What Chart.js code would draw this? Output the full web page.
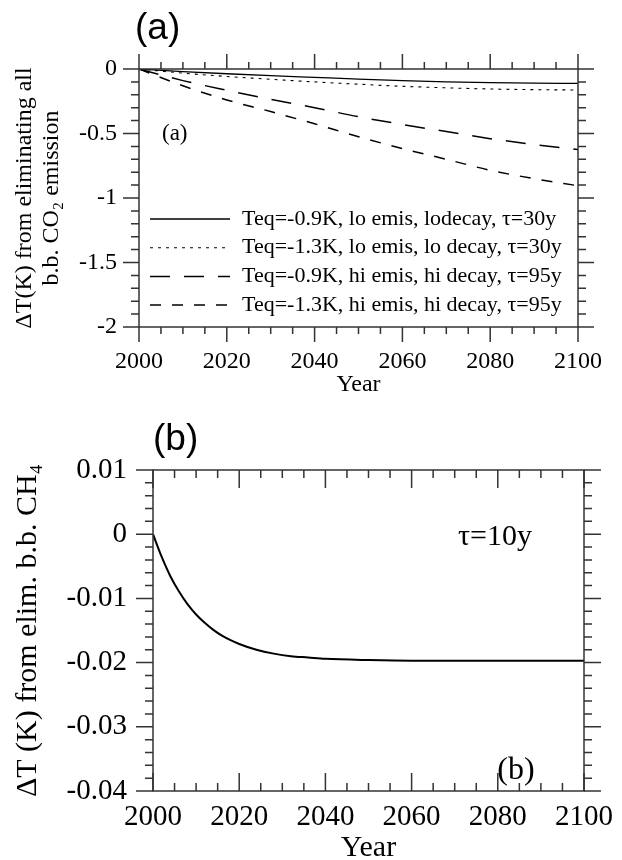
<!DOCTYPE html>
<html>
<head>
<meta charset="utf-8">
<script src="https://cdn.jsdelivr.net/npm/chart.js@4.4.1/dist/chart.umd.min.js"></script>
<style>
  body { margin: 0; background: #fff; width: 622px; height: 860px; overflow: hidden; position: relative; }
  canvas { position: absolute; left: 0; }
  #chartA { top: 0; }
  #chartB { top: 400px; }
</style>
</head>
<body>
<canvas id="chartA" width="622" height="400"></canvas>
<canvas id="chartB" width="622" height="460"></canvas>
<script>
// panel (a): warming change from eliminating biomass-burning CO2
const yearsA = [2000, 2010, 2020, 2030, 2040, 2050, 2060, 2070, 2080, 2090, 2100];
const loTeq09 = [0, -0.02, -0.037, -0.052, -0.065, -0.078, -0.09, -0.1, -0.106, -0.11, -0.111];
const loTeq13 = [0, -0.032, -0.058, -0.08, -0.1, -0.118, -0.134, -0.146, -0.155, -0.16, -0.163];
const hiTeq09 = [0, -0.09, -0.165, -0.235, -0.3, -0.37, -0.43, -0.485, -0.54, -0.585, -0.625];
const hiTeq13 = [0, -0.13, -0.24, -0.33, -0.425, -0.525, -0.617, -0.7, -0.785, -0.85, -0.905];
const labelsA = [
  'Teq=-0.9K, lo emis, lodecay, τ=30y',
  'Teq=-1.3K, lo emis, lo decay, τ=30y',
  'Teq=-0.9K, hi emis, hi decay, τ=95y',
  'Teq=-1.3K, hi emis, hi decay, τ=95y'
];

// panel (b): CH4
const yearsB = [2000, 2002, 2004, 2006, 2008, 2010, 2012, 2014, 2016, 2018, 2020, 2024, 2028, 2032, 2036, 2040, 2050, 2060, 2070, 2080, 2090, 2100];
const dTch4 = [0, -0.0035, -0.0065, -0.0089, -0.0109, -0.0125, -0.0138, -0.0149, -0.0158, -0.0165, -0.0171, -0.018, -0.0186, -0.019, -0.0192, -0.0194, -0.0196, -0.0197, -0.0197, -0.0197, -0.0197, -0.0197];

const serif = "'Liberation Serif', 'Times New Roman', serif";
const sans = "'Liberation Sans', Arial, sans-serif";
Chart.defaults.font.family = serif;
Chart.defaults.color = '#000';

const fmt = v => String(Math.round(v * 1000) / 1000);
const pts = (xs, ys) => xs.map((x, i) => ({x: x, y: ys[i]}));

// box frame plus major/minor ticks on all four sides
const frameTicks = {
  id: 'frameTicks',
  afterDatasetsDraw(chart, args, o) {
    const {ctx, chartArea: a, scales: {x, y}} = chart;
    ctx.save();
    ctx.strokeStyle = '#333';
    ctx.lineWidth = 1.5;
    ctx.setLineDash([]);
    ctx.strokeRect(a.left, a.top, a.right - a.left, a.bottom - a.top);
    const walk = (min, max, minor, major, fn) => {
      const n = Math.round((max - min) / minor);
      for (let i = 0; i <= n; i++) {
        const v = min + i * minor;
        const q = v / major;
        fn(v, Math.abs(q - Math.round(q)) < 1e-6);
      }
    };
    ctx.beginPath();
    const sx = o.xInward ? -1 : 1;
    walk(x.min, x.max, o.xMinor, o.xMajor, (v, big) => {
      const px = x.getPixelForValue(v);
      const len = big ? o.xMajorLen : o.xMinorLen;
      ctx.moveTo(px, a.top); ctx.lineTo(px, a.top - sx * len);
      ctx.moveTo(px, a.bottom); ctx.lineTo(px, a.bottom + sx * len);
    });
    walk(y.min, y.max, o.yMinor, o.yMajor, (v, big) => {
      const py = y.getPixelForValue(v);
      const len = big ? o.yMajorLen : o.yMinorLen;
      ctx.moveTo(a.left, py); ctx.lineTo(a.left - len, py);
      ctx.moveTo(a.right, py); ctx.lineTo(a.right + len, py);
    });
    ctx.stroke();
    ctx.restore();
  }
};

// legend drawn inside the plot box
const lineLegend = {
  id: 'lineLegend',
  afterDatasetsDraw(chart, args, o) {
    const ctx = chart.ctx;
    ctx.save();
    ctx.font = o.font;
    ctx.fillStyle = '#000';
    ctx.strokeStyle = '#000';
    ctx.textBaseline = 'middle';
    chart.data.datasets.forEach((ds, i) => {
      const yy = o.y0 + i * o.dy;
      ctx.lineWidth = ds.borderWidth;
      ctx.setLineDash(ds.borderDash || []);
      ctx.beginPath();
      ctx.moveTo(o.x0, yy);
      ctx.lineTo(o.x1, yy);
      ctx.stroke();
      ctx.fillText(ds.label, o.textX, yy);
    });
    ctx.restore();
  }
};

const notes = {
  id: 'notes',
  afterDraw(chart, args, o) {
    const ctx = chart.ctx;
    ctx.save();
    ctx.fillStyle = '#000';
    o.items.forEach(t => {
      ctx.font = t.font;
      ctx.textAlign = t.align || 'left';
      ctx.textBaseline = t.baseline || 'alphabetic';
      ctx.fillText(t.text, t.x, t.y);
    });
    ctx.restore();
  }
};

const styleA = [
  {borderWidth: 1.3, borderDash: []},
  {borderWidth: 1.1, borderDash: [3, 5]},
  {borderWidth: 1.5, borderDash: [20, 14]},
  {borderWidth: 1.5, borderDash: [11, 11]}
];

new Chart(document.getElementById('chartA'), {
  type: 'line',
  data: {
    datasets: [loTeq09, loTeq13, hiTeq09, hiTeq13].map((ys, i) => ({
      label: labelsA[i],
      data: pts(yearsA, ys),
      borderColor: '#000',
      borderWidth: styleA[i].borderWidth,
      borderDash: styleA[i].borderDash,
      pointRadius: 0,
      cubicInterpolationMode: 'monotone',
      fill: false
    }))
  },
  options: {
    responsive: false,
    animation: false,
    devicePixelRatio: 1,
    layout: {padding: {left: 0, right: 32, top: 69, bottom: 0}},
    plugins: {
      legend: {display: false},
      tooltip: {enabled: false},
      frameTicks: {xMajor: 20, xMinor: 5, yMajor: 0.5, yMinor: 0.1,
        xMajorLen: 15, xMinorLen: 7, yMajorLen: 16, yMinorLen: 8, xInward: false},
      lineLegend: {x0: 150, x1: 230, textX: 242, y0: 219, dy: 28.7, font: '22px ' + serif},
      notes: {items: [
        {text: '(a)', x: 135, y: 39, font: '37px ' + sans},
        {text: '(a)', x: 162, y: 140, font: '23px ' + serif}
      ]}
    },
    scales: {
      x: {
        type: 'linear', min: 2000, max: 2100,
        grid: {display: false, drawTicks: false},
        border: {display: false},
        ticks: {stepSize: 20, padding: 20, color: '#000', maxRotation: 0, autoSkip: false,
          font: {family: serif, size: 24}, callback: v => String(v)},
        title: {display: true, text: 'Year', color: '#000',
          font: {family: serif, size: 24, lineHeight: 1}, padding: {top: 0, bottom: 3}},
        afterFit: s => { s.height = 73; }
      },
      y: {
        type: 'linear', min: -2, max: 0,
        grid: {display: false, drawTicks: false},
        border: {display: false},
        ticks: {stepSize: 0.5, padding: 22, color: '#000',
          font: {family: serif, size: 24}, callback: fmt},
        title: {display: true, text: ['ΔT(K) from eliminating all', 'b.b. CO₂ emission'], color: '#000',
          font: {family: serif, size: 24, lineHeight: 1.1}, padding: {top: 12, bottom: 0}},
        afterFit: s => { s.width = 139; }
      }
    }
  },
  plugins: [frameTicks, lineLegend, notes]
});

new Chart(document.getElementById('chartB'), {
  type: 'line',
  data: {
    datasets: [{
      label: 'CH4',
      data: pts(yearsB, dTch4),
      borderColor: '#000',
      borderWidth: 2,
      pointRadius: 0,
      cubicInterpolationMode: 'monotone',
      fill: false
    }]
  },
  options: {
    responsive: false,
    animation: false,
    devicePixelRatio: 1,
    layout: {padding: {left: 0, right: 36, top: 70, bottom: 0}},
    plugins: {
      legend: {display: false},
      tooltip: {enabled: false},
      frameTicks: {xMajor: 20, xMinor: 5, yMajor: 0.01, yMinor: 0.002,
        xMajorLen: 18, xMinorLen: 8, yMajorLen: 17, yMinorLen: 8, xInward: true},
      notes: {items: [
        {text: '(b)', x: 153, y: 50, font: '37px ' + sans},
        {text: 'τ=10y', x: 458, y: 137, font: '30px ' + serif, baseline: 'middle'},
        {text: '(b)', x: 516, y: 371, font: '32px ' + serif, align: 'center', baseline: 'middle'}
      ]}
    },
    scales: {
      x: {
        type: 'linear', min: 2000, max: 2100,
        grid: {display: false, drawTicks: false},
        border: {display: false},
        ticks: {stepSize: 20, padding: 9, color: '#000', maxRotation: 0, autoSkip: false,
          font: {family: serif, size: 29}, callback: v => String(v)},
        title: {display: true, text: 'Year', color: '#000',
          font: {family: serif, size: 30, lineHeight: 1}, padding: {top: 0, bottom: -3}},
        afterFit: s => { s.height = 69; }
      },
      y: {
        type: 'linear', min: -0.04, max: 0.01,
        grid: {display: false, drawTicks: false},
        border: {display: false},
        ticks: {stepSize: 0.01, padding: 26, color: '#000',
          font: {family: serif, size: 29}, callback: fmt},
        title: {display: true, text: 'ΔT (K) from elim. b.b. CH₄', color: '#000',
          font: {family: serif, size: 30, lineHeight: 1.2}, padding: {top: 10, bottom: 0}},
        afterFit: s => { s.width = 153; }
      }
    }
  },
  plugins: [frameTicks, notes]
});
</script>
</body>
</html>
